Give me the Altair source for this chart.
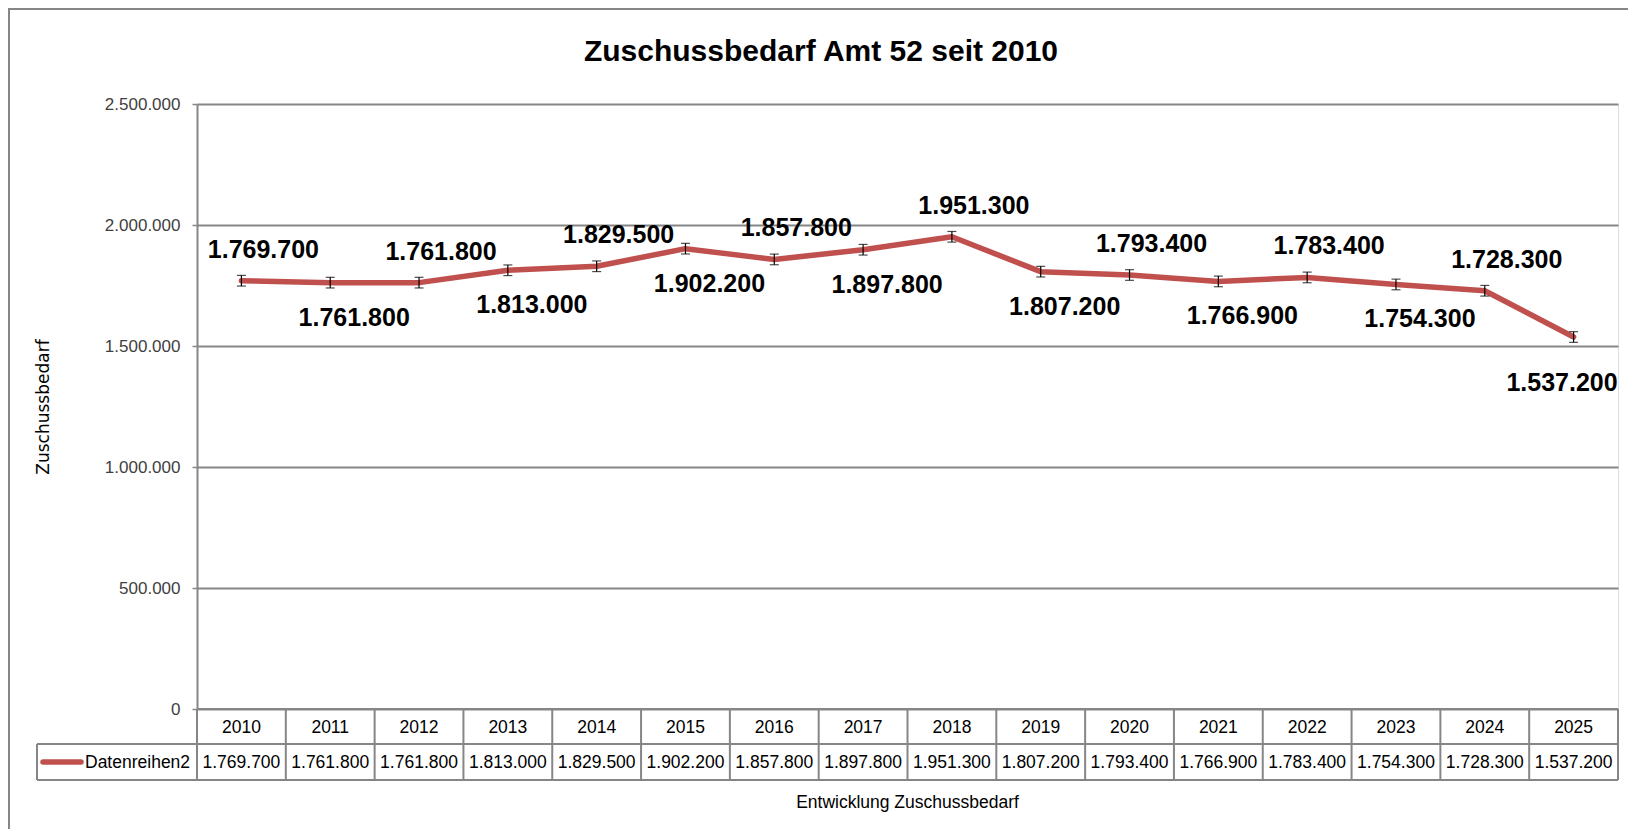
import altair as alt
import pandas as pd

# ---- data ----
years = ["2010", "2011", "2012", "2013", "2014", "2015", "2016", "2017",
         "2018", "2019", "2020", "2021", "2022", "2023", "2024", "2025"]
values = [1769700, 1761800, 1761800, 1813000, 1829500, 1902200, 1857800, 1897800,
          1951300, 1807200, 1793400, 1766900, 1783400, 1754300, 1728300, 1537200]
err_amount = 22000
series_name = "Datenreihen2"
y_ticks = [0, 500000, 1000000, 1500000, 2000000, 2500000]
chart_title = "Zuschussbedarf Amt 52 seit 2010"
y_title = "Zuschussbedarf"
x_title = "Entwicklung Zuschussbedarf"

n = len(years)


def de(v):
    return f"{v:,}".replace(",", ".")


df = pd.DataFrame({"year": years, "idx": list(range(n)), "value": values})
df["label"] = [de(v) for v in values]
df["lo"] = df["value"] - err_amount
df["hi"] = df["value"] + err_amount
df["pos"] = ["above" if i % 2 == 0 else "below" for i in range(n)]
df["last"] = [i == n - 1 for i in range(n)]

bounds = pd.DataFrame({"b": [i - 0.5 for i in range(n + 1)]})

# ---- styling ----
W, H = 1421, 605
RED = "#C0504D"
GRAY = "#868686"
FONT = "Liberation Sans, Arial, sans-serif"
TXT = 17.5

xs = alt.Scale(domain=[-0.5, n - 0.5], nice=False, zero=False)
ys = alt.Scale(domain=[0, 2500000], nice=False)
X = alt.X("idx:Q", scale=xs, axis=None)

y_axis = alt.Axis(
    values=y_ticks,
    title=y_title,
    titleFont="DejaVu Sans", titleFontSize=17, titleFontWeight="normal", titleColor="#000000",
    titleAngle=270, titleX=-154, titleY=H / 2, titleAlign="center", titleBaseline="middle",
    labelExpr="replace(format(datum.value, ',d'), regexp(',', 'g'), '.')",
    labelFont=FONT, labelFontSize=17, labelColor="#404040", labelPadding=12,
    tickSize=5, tickColor=GRAY, tickWidth=1.5,
    domainColor=GRAY, domainWidth=2,
    grid=True, gridColor=GRAY, gridWidth=2,
)


def Y(field):
    return alt.Y(field, scale=ys, axis=y_axis)


base = alt.Chart(df)

line = base.mark_line(color=RED, strokeWidth=5.5, strokeCap="round", strokeJoin="round").encode(
    x=X, y=Y("value:Q"))

err_rule = base.mark_rule(color="black", strokeWidth=1.2).encode(
    x=X, y=Y("lo:Q"), y2="hi:Q")
cap_lo = base.mark_tick(orient="horizontal", color="black", size=9, thickness=1.2).encode(
    x=X, y=Y("lo:Q"))
cap_hi = base.mark_tick(orient="horizontal", color="black", size=9, thickness=1.2).encode(
    x=X, y=Y("hi:Q"))

lbl_kw = dict(font=FONT, fontSize=25, fontWeight="bold", color="#000000", baseline="middle")
lbl_above = base.transform_filter("datum.pos == 'above'").mark_text(dx=22, dy=-31, **lbl_kw).encode(
    x=X, y=Y("value:Q"), text="label:N")
lbl_below = base.transform_filter("datum.pos == 'below' && !datum.last").mark_text(dx=24, dy=35, **lbl_kw).encode(
    x=X, y=Y("value:Q"), text="label:N")
lbl_last = base.transform_filter("datum.last").mark_text(dx=44, dy=46, align="right", **lbl_kw).encode(
    x=X, y=Y("value:Q"), text="label:N")

# ---- data table below the plot ----
ROW1_TOP, ROW_MID, ROW_BOT = H, H + 35, H + 71
LEG_LEFT = -160

vlines = alt.Chart(bounds).mark_rule(color=GRAY, strokeWidth=2).encode(
    x=alt.X("b:Q", scale=xs, axis=None), y=alt.value(ROW1_TOP), y2=alt.value(ROW_BOT))
hline_top = base.mark_rule(color=GRAY, strokeWidth=2).encode(
    x=alt.value(0), x2=alt.value(W), y=alt.value(ROW1_TOP))
hline_mid = base.mark_rule(color=GRAY, strokeWidth=2).encode(
    x=alt.value(LEG_LEFT), x2=alt.value(W), y=alt.value(ROW_MID))
hline_bot = base.mark_rule(color=GRAY, strokeWidth=2).encode(
    x=alt.value(LEG_LEFT), x2=alt.value(W), y=alt.value(ROW_BOT))
leg_left = base.mark_rule(color=GRAY, strokeWidth=2).encode(
    x=alt.value(LEG_LEFT), y=alt.value(ROW_MID), y2=alt.value(ROW_BOT))

year_txt = base.mark_text(font=FONT, fontSize=TXT, color="#000000", baseline="middle").encode(
    x=X, y=alt.value((ROW1_TOP + ROW_MID) / 2 + 1), text="year:N")
val_txt = base.mark_text(font=FONT, fontSize=TXT, color="#000000", baseline="middle").encode(
    x=X, y=alt.value((ROW_MID + ROW_BOT) / 2 + 1), text="label:N")

legend_df = pd.DataFrame({"name": [series_name]})
leg_sym = alt.Chart(legend_df).mark_rule(color=RED, strokeWidth=5.5, strokeCap="round").encode(
    x=alt.value(LEG_LEFT + 6), x2=alt.value(LEG_LEFT + 44), y=alt.value((ROW_MID + ROW_BOT) / 2))
leg_txt = alt.Chart(legend_df).mark_text(font=FONT, fontSize=TXT, align="left", baseline="middle").encode(
    x=alt.value(LEG_LEFT + 48), y=alt.value((ROW_MID + ROW_BOT) / 2 + 1), text="name:N")

xtitle_df = pd.DataFrame({"t": [x_title]})
xtitle = alt.Chart(xtitle_df).mark_text(font=FONT, fontSize=TXT, baseline="middle").encode(
    x=alt.value(W / 2), y=alt.value(699), text="t:N")

title_df = pd.DataFrame({"t": [chart_title]})
title = alt.Chart(title_df).mark_text(font=FONT, fontSize=30, fontWeight="bold", color="#000000",
                                      align="center", baseline="alphabetic").encode(
    x=alt.value(624), y=alt.value(-43), text="t:N")

# ---- outer chart-area border ----
border = alt.Chart(legend_df).mark_rect(filled=False, stroke=GRAY, strokeWidth=2).encode(
    x=alt.value(-188), y=alt.value(-95), x2=alt.value(W + 40), y2=alt.value(H + 160))

chart = alt.layer(
    border, line, err_rule, cap_lo, cap_hi, lbl_above, lbl_below, lbl_last,
    vlines, hline_top, hline_mid, hline_bot, leg_left, year_txt, val_txt,
    leg_sym, leg_txt, xtitle, title,
).properties(
    width=W, height=H,
    padding={"left": 189, "top": 96, "right": 10, "bottom": 120},
    autosize=alt.AutoSizeParams(type="none"),
).configure_view(strokeWidth=0).configure(background="white")

chart.save("out.html", embed_options={"renderer": "svg", "actions": False})
